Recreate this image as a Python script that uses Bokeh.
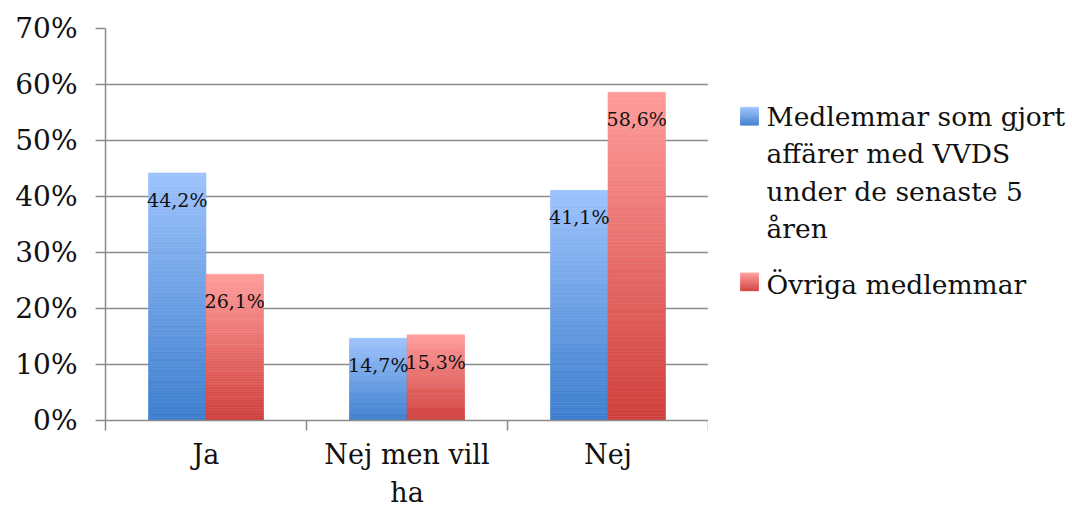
from bokeh.plotting import figure
from bokeh.layouts import row
from bokeh.models import Range1d, FixedTicker, PrintfTickFormatter
from bokeh.core.properties import value
from bokeh.embed import file_html
from bokeh.resources import INLINE

# ---- data ----
categories = ["Ja", "Nej men vill\nha", "Nej"]
series_names = ["Medlemmar som gjort affärer med VVDS under de senaste 5 åren",
                "Övriga medlemmar"]
legend_lines = [["Medlemmar som gjort", "affärer med VVDS", "under de senaste 5", "åren"],
                ["Övriga medlemmar"]]
members_vvds = [44.2, 14.7, 41.1]
other_members = [26.1, 15.3, 58.6]
data_labels_vvds = ["44,2%", "14,7%", "41,1%"]
data_labels_other = ["26,1%", "15,3%", "58,6%"]
y_ticks = [0, 10, 20, 30, 40, 50, 60, 70]

FONT = "DejaVu Serif"
# gradient colours (bottom, top)
grad = [((0x3D, 0x7E, 0xCE), (0x9D, 0xC3, 0xFC)),
        ((0xCF, 0x3F, 0x3C), (0xFF, 0x9D, 0x9B))]


def lerp(c0, c1, t):
    return "#%02x%02x%02x" % tuple(int(round(a + (b - a) * t)) for a, b in zip(c0, c1))


BT, BB = 28, 90
p = figure(width=708, height=511, output_backend="svg", toolbar_location=None,
           x_range=Range1d(0, 3), y_range=Range1d(0, 70),
           min_border_left=105, min_border_right=0, min_border_top=BT, min_border_bottom=BB)
p.outline_line_color = None
p.background_fill_color = "white"
p.border_fill_color = "white"

bar_w = 0.286
N = 90
for s, vals in enumerate([members_vvds, other_members]):
    left, right, bottom, top, colors = [], [], [], [], []
    for i, v in enumerate(vals):
        cx = i + 0.5 + (s - 0.5) * bar_w
        for k in range(N):
            left.append(cx - bar_w / 2)
            right.append(cx + bar_w / 2)
            bottom.append(v * k / N)
            top.append(v * (k + 1) / N)
            colors.append(lerp(grad[s][0], grad[s][1], (k + 0.5) / N))
    p.quad(left=left, right=right, bottom=bottom, top=top, fill_color=colors,
           line_color=colors, line_width=0.6)

for s, (vals, labs) in enumerate([(members_vvds, data_labels_vvds), (other_members, data_labels_other)]):
    xs = [i + 0.5 + (s - 0.5) * bar_w for i in range(len(vals))]
    p.text(x=xs, y=vals, text=labs, text_align="center", text_baseline="middle",
           y_offset=27, text_font=value(FONT), text_font_size="19px", text_color="#111111")

# y axis
p.yaxis.ticker = FixedTicker(ticks=y_ticks)
p.yaxis.formatter = PrintfTickFormatter(format="%d%%")
p.yaxis.major_label_text_font = FONT
p.yaxis.major_label_text_font_size = "28px"
p.yaxis.major_label_text_color = "#111111"
p.yaxis.major_tick_in = 0
p.yaxis.major_tick_out = 10
p.yaxis.minor_tick_line_color = None
p.yaxis.major_label_standoff = 18
p.yaxis.axis_line_color = "#8c8c8c"
p.yaxis.axis_line_width = 1.5
p.yaxis.major_tick_line_color = "#8c8c8c"
p.yaxis.major_tick_line_width = 1.5

# x axis
p.xaxis.ticker = FixedTicker(ticks=[0.5, 1.5, 2.5], minor_ticks=[0, 1, 2, 3])
p.xaxis.major_label_overrides = {0.5: categories[0], 1.5: categories[1], 2.5: categories[2]}
p.xaxis.major_label_text_font = FONT
p.xaxis.major_label_text_font_size = "27px"
p.xaxis.major_label_text_color = "#111111"
p.xaxis.major_label_text_line_height = 1.25
p.xaxis.major_tick_line_color = None
p.xaxis.minor_tick_in = 0
p.xaxis.minor_tick_out = 10
p.xaxis.minor_tick_line_color = "#8c8c8c"
p.xaxis.minor_tick_line_width = 1.5
p.xaxis.axis_line_color = "#8c8c8c"
p.xaxis.axis_line_width = 1.5
p.xaxis.major_label_standoff = 8

p.xgrid.visible = False
p.ygrid.ticker = FixedTicker(ticks=y_ticks)
p.ygrid.grid_line_color = "#8c8c8c"
p.ygrid.grid_line_width = 1.5

# ---- legend panel (data units = page pixels; frame aligned with main frame) ----
lg = figure(width=364, height=511, output_backend="svg", toolbar_location=None,
            x_range=Range1d(708, 1072), y_range=Range1d(511 - BB, BT),
            min_border_left=0, min_border_right=0, min_border_top=BT, min_border_bottom=BB)
lg.axis.visible = False
lg.grid.visible = False
lg.outline_line_color = None
lg.border_fill_color = "white"
lg.background_fill_color = "white"

sq_x0, sq_x1 = 740, 758
sq_tops = [107, 273]
entry_base = [116, 285]
line_step = 37.5
for s in range(2):
    sq_top = sq_tops[s]
    sq_bot = sq_top + 18
    M = 20
    lft, rgt, bt, tp, cols = [], [], [], [], []
    for k in range(M):
        y0 = sq_bot - (sq_bot - sq_top) * k / M
        y1 = sq_bot - (sq_bot - sq_top) * (k + 1) / M
        lft.append(sq_x0); rgt.append(sq_x1); bt.append(y0); tp.append(y1)
        cols.append(lerp(grad[s][0], grad[s][1], (k + 0.5) / M))
    lg.quad(left=lft, right=rgt, bottom=bt, top=tp, fill_color=cols, line_color=cols, line_width=0.6)
    lines = legend_lines[s]
    b0 = entry_base[s]
    lg.text(x=[766] * len(lines), y=[b0 + j * line_step for j in range(len(lines))], text=lines,
            text_align="left", text_baseline="alphabetic", text_font=value(FONT),
            text_font_size="26.5px", text_color="#111111")

layout = row(p, lg)
open("out.html", "w").write(file_html(layout, INLINE))
